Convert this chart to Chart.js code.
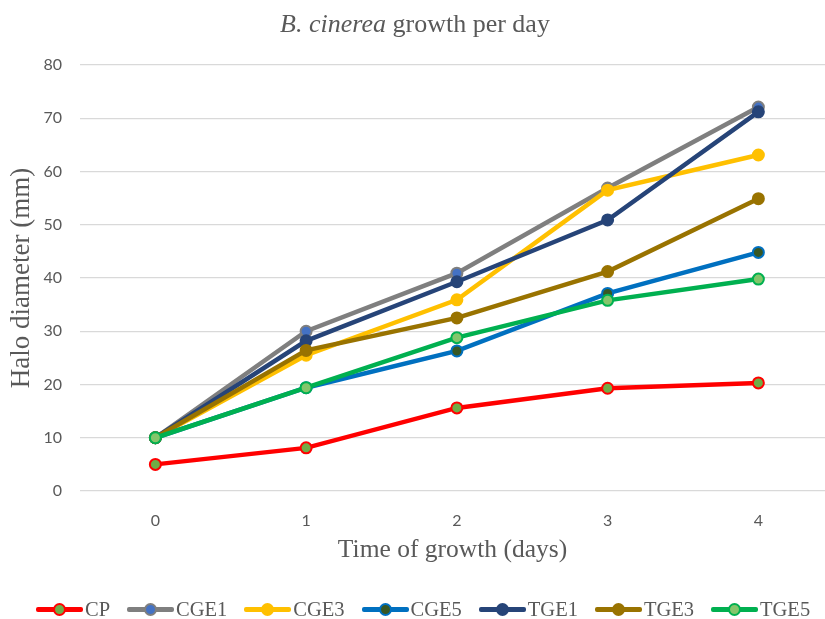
<!DOCTYPE html>
<html>
<head>
<meta charset="utf-8">
<script src="https://cdn.jsdelivr.net/npm/chart.js@4/dist/chart.umd.min.js"></script>
<style>
  html, body { margin: 0; padding: 0; background: #fff; overflow: hidden; }
  #wrap { position: relative; width: 825px; height: 619px; }
  #title {
    position: absolute; left: 0; top: 8px; width: 830px; text-align: center;
    font-family: "Liberation Serif", "Times New Roman", serif; font-size: 26px;
    color: #595959; line-height: 32px;
  }
  #legend {
    position: absolute; left: 36px; top: 597px; height: 24px;
    display: flex; align-items: center;
    font-family: "Liberation Serif", "Times New Roman", serif; font-size: 20.5px; color: #595959;
  }
  .item { display: flex; align-items: center; margin-right: 17px; }
  .swatch { position: relative; width: 47px; height: 14px; margin-right: 2px; }
  .swatch .ln { position: absolute; left: 0; right: 0; top: 5px; height: 5px; border-radius: 2px; }
  .swatch .dot { position: absolute; left: 17px; top: 1px; width: 9px; height: 9px; border-radius: 50%; border: 2px solid; }
</style>
</head>
<body>
<div id="wrap">
  <canvas id="c" width="825" height="619"></canvas>
  <div id="title"><i>B. cinerea</i> growth per day</div>
  <div id="legend"></div>
</div>
<script>
// Days of growth (x axis)
const days = [0, 1, 2, 3, 4];

// Halo diameter (mm) per treatment
const cp   = [5, 8.1, 15.6, 19.3, 20.3];
const cge1 = [10, 30.0, 40.9, 56.9, 72.1];
const cge3 = [10, 25.5, 35.9, 56.5, 63.1];
const cge5 = [10, 19.4, 26.3, 37.1, 44.8];
const tge1 = [10, 28.2, 39.3, 50.9, 71.2];
const tge3 = [10, 26.4, 32.5, 41.2, 54.9];
const tge5 = [10, 19.4, 28.8, 35.8, 39.8];

const seriesNames = ['CP', 'CGE1', 'CGE3', 'CGE5', 'TGE1', 'TGE3', 'TGE5'];
const seriesValues = [cp, cge1, cge3, cge5, tge1, tge3, tge5];
const lineColors = ['#FF0000', '#7F7F7F', '#FFC000', '#0070C0', '#264478', '#997300', '#00B050'];
const markerColors = ['#70AD47', '#4472C4', '#FFC000', '#385723', '#264478', '#997300', '#84C66B'];

const yTicks = [0, 10, 20, 30, 40, 50, 60, 70, 80];

const datasets = seriesNames.map((name, i) => ({
  label: name,
  data: days.map((d, j) => ({ x: d, y: seriesValues[i][j] })),
  borderColor: lineColors[i],
  backgroundColor: markerColors[i],
  pointBackgroundColor: markerColors[i],
  pointBorderColor: lineColors[i],
  borderWidth: 4.5,
  pointRadius: 5.5,
  pointBorderWidth: 2,
  pointHoverRadius: 5.5,
  tension: 0,
  // later series drawn on top
  order: seriesNames.length - 1 - i
}));

const serif = '"Liberation Serif", "Times New Roman", serif';
const sans = 'Lato, "Open Sans", sans-serif';

const chart = new Chart(document.getElementById('c'), {
  type: 'line',
  data: { datasets },
  options: {
    responsive: false,
    animation: false,
    devicePixelRatio: 1,
    layout: { autoPadding: false, padding: { top: 65, bottom: 48, left: 0, right: 0 } },
    plugins: {
      legend: { display: false },
      title: { display: false },
      tooltip: { enabled: false }
    },
    scales: {
      x: {
        type: 'linear',
        min: -0.5,
        max: 4.442,
        afterBuildTicks: (axis) => { axis.ticks = days.map(v => ({ value: v })); },
        afterFit: (scale) => { scale.height = 80; },
        grid: { display: false, drawTicks: false },
        border: { display: false },
        ticks: {
          padding: 20,
          color: '#595959',
          font: { family: sans, size: 16 },
          callback: (v) => String(v)
        },
        title: {
          display: true,
          text: 'Time of growth (days)',
          color: '#595959',
          font: { family: serif, size: 25.5 },
          padding: { top: 0, bottom: 5 }
        }
      },
      y: {
        min: 0,
        max: 80,
        afterBuildTicks: (axis) => { axis.ticks = yTicks.map(v => ({ value: v })); },
        afterFit: (scale) => { scale.width = 80; },
        grid: { color: '#D9D9D9', lineWidth: 1.3, drawTicks: false },
        border: { display: false },
        ticks: {
          padding: 18,
          color: '#595959',
          font: { family: sans, size: 16 }
        },
        title: {
          display: true,
          text: 'Halo diameter (mm)',
          color: '#595959',
          font: { family: serif, size: 27 },
          padding: { top: 6, bottom: 0 }
        }
      }
    }
  }
});

// Legend: line-with-marker swatches built from the chart's datasets
const legend = document.getElementById('legend');
chart.data.datasets.forEach(ds => {
  const item = document.createElement('div');
  item.className = 'item';
  const sw = document.createElement('div');
  sw.className = 'swatch';
  const ln = document.createElement('div');
  ln.className = 'ln';
  ln.style.background = ds.borderColor;
  const dot = document.createElement('div');
  dot.className = 'dot';
  dot.style.background = ds.pointBackgroundColor;
  dot.style.borderColor = ds.pointBorderColor;
  sw.appendChild(ln);
  sw.appendChild(dot);
  const txt = document.createElement('span');
  txt.textContent = ds.label;
  item.appendChild(sw);
  item.appendChild(txt);
  legend.appendChild(item);
});
</script>
</body>
</html>
